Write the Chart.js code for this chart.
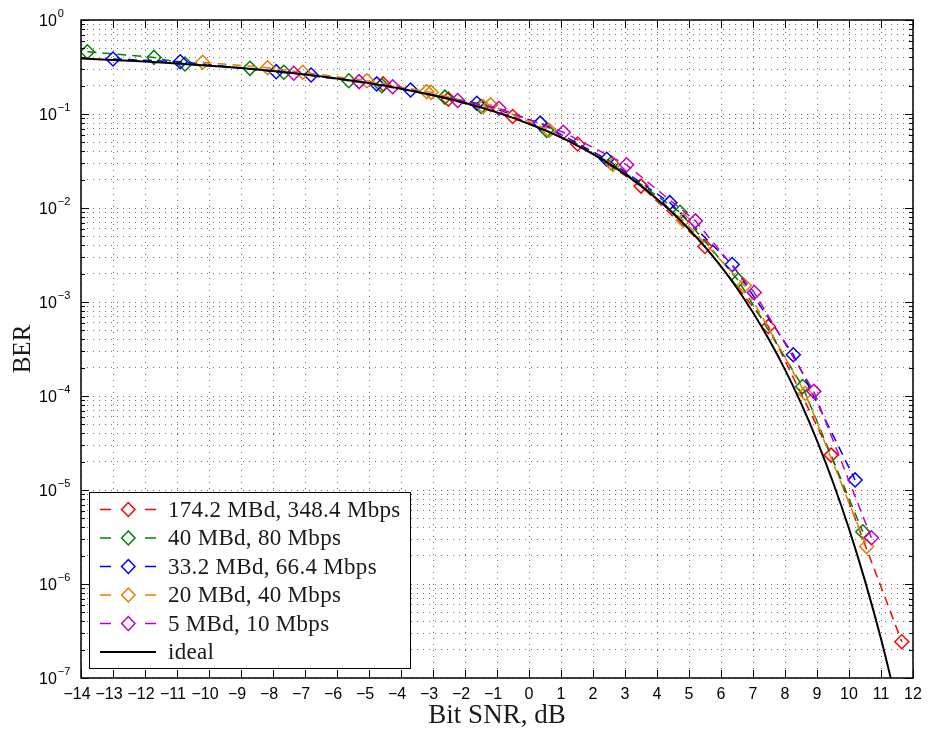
<!DOCTYPE html>
<html>
<head>
<meta charset="utf-8">
<script src="https://cdn.jsdelivr.net/npm/chart.js@4.4.1/dist/chart.umd.min.js"></script>
<style>
  html, body { margin: 0; padding: 0; background: #fff; }
  #wrap { width: 929px; height: 734px; }
</style>
</head>
<body>
<div id="wrap"><canvas id="ber" width="929" height="734"></canvas></div>
<script>
// series: bit SNR in dB, BER
const snrRed = [-4.56, -2.52, -0.51, 1.52, 3.5, 5.5, 7.48, 9.44, 11.65];
const berRed = [0.209, 0.144, 0.094, 0.048, 0.0171, 0.0039, 5.5e-4, 2.35e-5, 2.43e-7];

const snrGreen = [-13.8, -11.72, -10.75, -8.72, -7.66, -5.63, -4.6, -2.63, -1.5, 0.55, 2.58, 4.72, 6.54, 8.55, 10.43];
const berGreen = [0.46, 0.40, 0.34, 0.306, 0.278, 0.226, 0.20, 0.151, 0.12, 0.067, 0.030, 0.009, 0.0017, 1.26e-4, 3.6e-6];

const snrBlue = [-13.0, -10.9, -7.9, -6.81, -4.76, -3.7, -1.63, 0.35, 2.43, 4.4, 6.35, 8.26, 10.19];
const berBlue = [0.385, 0.36, 0.282, 0.26, 0.209, 0.18, 0.13, 0.08, 0.033, 0.0114, 0.0025, 2.75e-4, 1.28e-5];

const snrOrange = [-10.2, -8.17, -7.07, -5.07, -3.2, -3.06, -1.43, -1.2, 0.63, 2.63, 4.82, 6.73, 8.63, 10.55];
const berOrange = [0.355, 0.31, 0.278, 0.226, 0.173, 0.17, 0.12, 0.125, 0.067, 0.029, 0.0074, 0.0015, 1.07e-4, 2.5e-6];

const snrMagenta = [-7.35, -5.31, -4.26, -2.23, -0.94, 1.07, 3.05, 5.2, 7.04, 8.9, 10.7];
const berMagenta = [0.271, 0.221, 0.195, 0.139, 0.115, 0.064, 0.0288, 0.0073, 0.00126, 1.12e-4, 3.1e-6];

const snrIdeal = [-14, -13, -12, -11, -10, -9, -8, -7, -6, -5, -4, -3, -2, -1, 0, 1, 2, 2.5, 3, 3.5, 4, 4.5, 5, 5.5, 6, 6.5, 7, 7.5, 8, 8.5, 9, 9.5, 10, 10.5, 11, 11.5];
const berIdeal = [0.389, 0.376, 0.361, 0.345, 0.327, 0.308, 0.287, 0.264, 0.239, 0.213, 0.186, 0.158, 0.131, 0.104, 0.0786, 0.0563, 0.0375, 0.0297, 0.0229, 0.0172, 0.0125, 0.0088, 0.00595, 0.00386, 0.00239, 0.0014, 7.73e-4, 3.98e-4, 1.91e-4, 8.4e-5, 3.36e-5, 1.21e-5, 3.87e-6, 1.08e-6, 2.61e-7, 5.3e-8];

const seriesNames = ['174.2 MBd, 348.4 Mbps', '40 MBd, 80 Mbps', '33.2 MBd, 66.4 Mbps', '20 MBd, 40 Mbps', '5 MBd, 10 Mbps', 'ideal'];
const seriesColors = ['#ff0000', '#008000', '#0000ff', '#e08000', '#c000c0', '#000000'];

const xTicks = [-14, -13, -12, -11, -10, -9, -8, -7, -6, -5, -4, -3, -2, -1, 0, 1, 2, 3, 4, 5, 6, 7, 8, 9, 10, 11, 12];
const yDecades = [0, -1, -2, -3, -4, -5, -6, -7];

function pts(xs, ys) {
    return xs.map((x, i) => ({ x: x, y: ys[i] }));
}

function measured(idx, xs, ys, order) {
    return {
        label: seriesNames[idx],
        data: pts(xs, ys),
        borderColor: seriesColors[idx],
        borderWidth: 1.5,
        borderDash: [9, 6],
        pointStyle: 'rectRot',
        pointRadius: 7,
        pointHoverRadius: 7,
        pointBorderWidth: 1.5,
        pointBorderColor: seriesColors[idx],
        pointBackgroundColor: 'rgba(255,255,255,0)',
        tension: 0,
        order: order
    };
}

const datasets = [
    measured(0, snrRed, berRed, 5),
    measured(1, snrGreen, berGreen, 4),
    measured(2, snrBlue, berBlue, 3),
    measured(3, snrOrange, berOrange, 2),
    measured(4, snrMagenta, berMagenta, 1),
    {
        label: seriesNames[5],
        data: pts(snrIdeal, berIdeal),
        borderColor: '#000',
        borderWidth: 2,
        pointRadius: 0,
        cubicInterpolationMode: 'monotone',
        order: 0
    }
];

// frame, inward ticks, y labels with exponents, legend box
const decor = {
    id: 'decor',
    afterDatasetsDraw(chart) {
        const ctx = chart.ctx;
        const a = chart.chartArea;
        const xs = chart.scales.x;
        const ys = chart.scales.y;
        ctx.save();
        ctx.strokeStyle = '#000';
        ctx.lineWidth = 1;
        ctx.setLineDash([]);
        ctx.beginPath();
        xTicks.forEach(v => {
            const px = Math.round(xs.getPixelForValue(v)) + 0.5;
            ctx.moveTo(px, a.bottom); ctx.lineTo(px, a.bottom - 8);
            ctx.moveTo(px, a.top); ctx.lineTo(px, a.top + 8);
        });
        ys.ticks.forEach(t => {
            const m = t.value / Math.pow(10, Math.floor(Math.log10(t.value) + 1e-9));
            const len = Math.abs(m - 1) < 1e-6 ? 8 : 4;
            const py = Math.round(ys.getPixelForValue(t.value)) + 0.5;
            ctx.moveTo(a.left, py); ctx.lineTo(a.left + len, py);
            ctx.moveTo(a.right, py); ctx.lineTo(a.right - len, py);
        });
        ctx.stroke();
        ctx.lineWidth = 1.5;
        ctx.strokeRect(a.left, a.top, a.right - a.left, a.bottom - a.top);

        // y tick labels 10^n
        ctx.fillStyle = '#000';
        yDecades.forEach(e => {
            const py = ys.getPixelForValue(Math.pow(10, e));
            ctx.font = '16px "Liberation Sans", Arial, sans-serif';
            ctx.textAlign = 'left';
            ctx.textBaseline = 'middle';
            ctx.fillText('10', 39, py + 2);
            const w = ctx.measureText('10').width;
            ctx.font = '11px "Liberation Sans", Arial, sans-serif';
            ctx.fillText(e === 0 ? '0' : '\u2212' + Math.abs(e), 39 + w + 1, py - 6);
        });

        // legend
        const lx = 89.5, ly = 492.5, lw = 321, lh = 176;
        ctx.fillStyle = '#fff';
        ctx.fillRect(lx, ly, lw, lh);
        ctx.lineWidth = 1;
        ctx.strokeStyle = '#000';
        ctx.strokeRect(lx, ly, lw, lh);
        ctx.font = '23px "Liberation Serif", "Times New Roman", serif';
        ctx.letterSpacing = '0.3px';
        ctx.textBaseline = 'middle';
        seriesNames.forEach((name, i) => {
            const y = 509.5 + i * 28.5;
            const c = seriesColors[i];
            ctx.strokeStyle = c;
            ctx.lineWidth = 1.5;
            ctx.beginPath();
            if (i < 5) {
                ctx.moveTo(100, y); ctx.lineTo(111, y);
                ctx.moveTo(145, y); ctx.lineTo(156, y);
                ctx.moveTo(128.3, y - 7); ctx.lineTo(135, y);
                ctx.lineTo(128.3, y + 7); ctx.lineTo(121.6, y); ctx.closePath();
            } else {
                ctx.lineWidth = 2;
                ctx.moveTo(100, y); ctx.lineTo(156, y);
            }
            ctx.stroke();
            ctx.fillStyle = '#1a1a1a';
            ctx.fillText(name, 168, y + 1);
        });
        ctx.restore();
    }
};

const dotted = { color: 'rgba(0,0,0,0.55)', lineWidth: 1, drawTicks: false };

new Chart(document.getElementById('ber').getContext('2d'), {
    type: 'line',
    data: { datasets: datasets },
    options: {
        responsive: false,
        animation: false,
        devicePixelRatio: 1,
        layout: { padding: { top: 20, right: 16, left: 0, bottom: 0 } },
        plugins: { legend: { display: false }, tooltip: { enabled: false } },
        scales: {
            x: {
                type: 'linear',
                min: -14,
                max: 12,
                grid: dotted,
                border: { display: false, dash: [1, 5] },
                afterBuildTicks: s => { s.ticks = xTicks.map(v => ({ value: v })); },
                afterFit: s => { s.height = 56; },
                ticks: {
                    autoSkip: false,
                    maxRotation: 0,
                    minRotation: 0,
                    padding: 7,
                    color: '#000',
                    font: { family: '"Liberation Sans", Arial, sans-serif', size: 16 },
                    callback: v => v < 0 ? '\u2212' + Math.abs(v) + '\u2002' : String(v)
                },
                title: {
                    display: true,
                    text: 'Bit SNR, dB',
                    color: '#1a1a1a',
                    padding: { top: 0, bottom: 2 },
                    font: { family: '"Liberation Serif", "Times New Roman", serif', size: 27 }
                }
            },
            y: {
                type: 'logarithmic',
                min: 1e-7,
                max: 1,
                grid: dotted,
                border: { display: false, dash: [1, 5] },
                afterBuildTicks: s => {
                    const t = [];
                    for (let e = -7; e <= 0; e++) {
                        for (let m = 1; m <= 9; m++) {
                            const v = m * Math.pow(10, e);
                            if (v <= 1.0000001) t.push({ value: v, major: m === 1 });
                        }
                    }
                    s.ticks = t;
                },
                afterFit: s => { s.width = 81; },
                ticks: { display: false },
                title: {
                    display: true,
                    text: 'BER',
                    color: '#1a1a1a',
                    padding: { top: 8, bottom: 0 },
                    font: { family: '"Liberation Serif", "Times New Roman", serif', size: 25 }
                }
            }
        }
    },
    plugins: [decor]
});
</script>
</body>
</html>
